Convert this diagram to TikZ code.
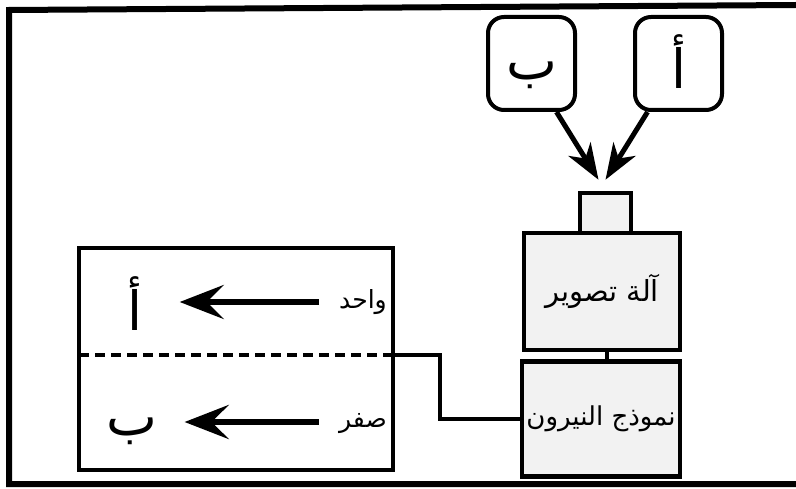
\documentclass[tikz,border=0pt]{standalone}
\usepackage{fontspec}
\usetikzlibrary{arrows.meta,positioning,calc}
\newfontfamily\arabicfont[Script=Arabic]{DejaVu Sans}
\TeXXeTstate=1

\begin{document}
\begin{tikzpicture}[
  x=1pt,y=-1pt,
  unit/.style={rectangle,draw,line width=4.5pt,fill=gray!10,inner sep=0pt},
  letterbox/.style={rectangle,draw,line width=4pt,rounded corners=16pt,inner sep=0pt,
    minimum width=87pt,minimum height=93pt},
  bigletter/.style={font=\arabicfont\fontsize{54}{60}\selectfont,inner sep=0pt},
  smalllabel/.style={font=\arabicfont\fontsize{25}{30}\selectfont,inner sep=0pt},
  feed/.style={line width=5pt,-{Stealth[length=36pt,width=26pt,inset=11pt]}},
  pointer/.style={line width=6pt,-{Stealth[length=44pt,width=34pt,inset=17pt]}},
  wire/.style={line width=4pt}
]
  \useasboundingbox (0,0) rectangle (796,489);

  % Outer frame
  \draw[line width=6pt] (796,5) -- (9,10) -- (9,484) -- (796,484);

  % Input letters
  \node[letterbox] (boxB) at (531.5,63.5) {};
  \node[letterbox] (boxA) at (678.5,63.5) {};
  \node[bigletter] (inB) at (531.5,75) {\beginR ب\endR};
  \node[bigletter] (inA) at (678.5,62) {\beginR أ\endR};

  % Camera and neuron model
  \node[unit,minimum width=51pt,minimum height=40pt] (lens) at (605.5,213) {};
  \node[unit,minimum width=156pt,minimum height=117pt,
    font=\arabicfont\fontsize{29}{34}\selectfont] (cam) at (602,291.5) {\beginR آلة تصوير\endR};
  \node[unit,minimum width=158pt,minimum height=115pt,
    font=\arabicfont\fontsize{26}{31}\selectfont] (model) at (601,419) {\beginR نموذج النيرون\endR};

  % Output panel
  \node[rectangle,draw,line width=4.5pt,minimum width=314pt,minimum height=222pt,inner sep=0pt]
    (panel) at (236,359) {};
  \coordinate (sepL) at (79,355);
  \coordinate (sepR) at (393,355);
  \draw[line width=4pt,dash pattern=on 10pt off 6pt] (sepL) -- (sepR);

  \node[bigletter] (outA) at (135,304) {\beginR أ\endR};
  \node[bigletter] (outB) at (132,431) {\beginR ب\endR};
  \node[smalllabel] (one) at (363,302) {\beginR واحد\endR};
  \node[smalllabel] (zero) at (363,424) {\beginR صفر\endR};

  % Arrows
  \draw[feed] ($(boxB.south)+(25,0)$) -- ($(lens.north)+(-7,-11)$);
  \draw[feed] ($(boxA.south)+(-31,0)$) -- ($(lens.north)+(0,-11)$);
  \draw[pointer] ($(one.west)+(-20,0)$) -- ($(outA.east)+(37,-2)$);
  \draw[pointer] ($(zero.west)+(-20,-2)$) -- ($(outB.east)+(27,-9)$);

  % Wires
  \draw[wire] (cam.south) ++(5,0) -- ($(model.north)+(6,0)$);
  \draw[wire] (sepR) -- ++(47,0) |- (model.west);
\end{tikzpicture}
\end{document}
